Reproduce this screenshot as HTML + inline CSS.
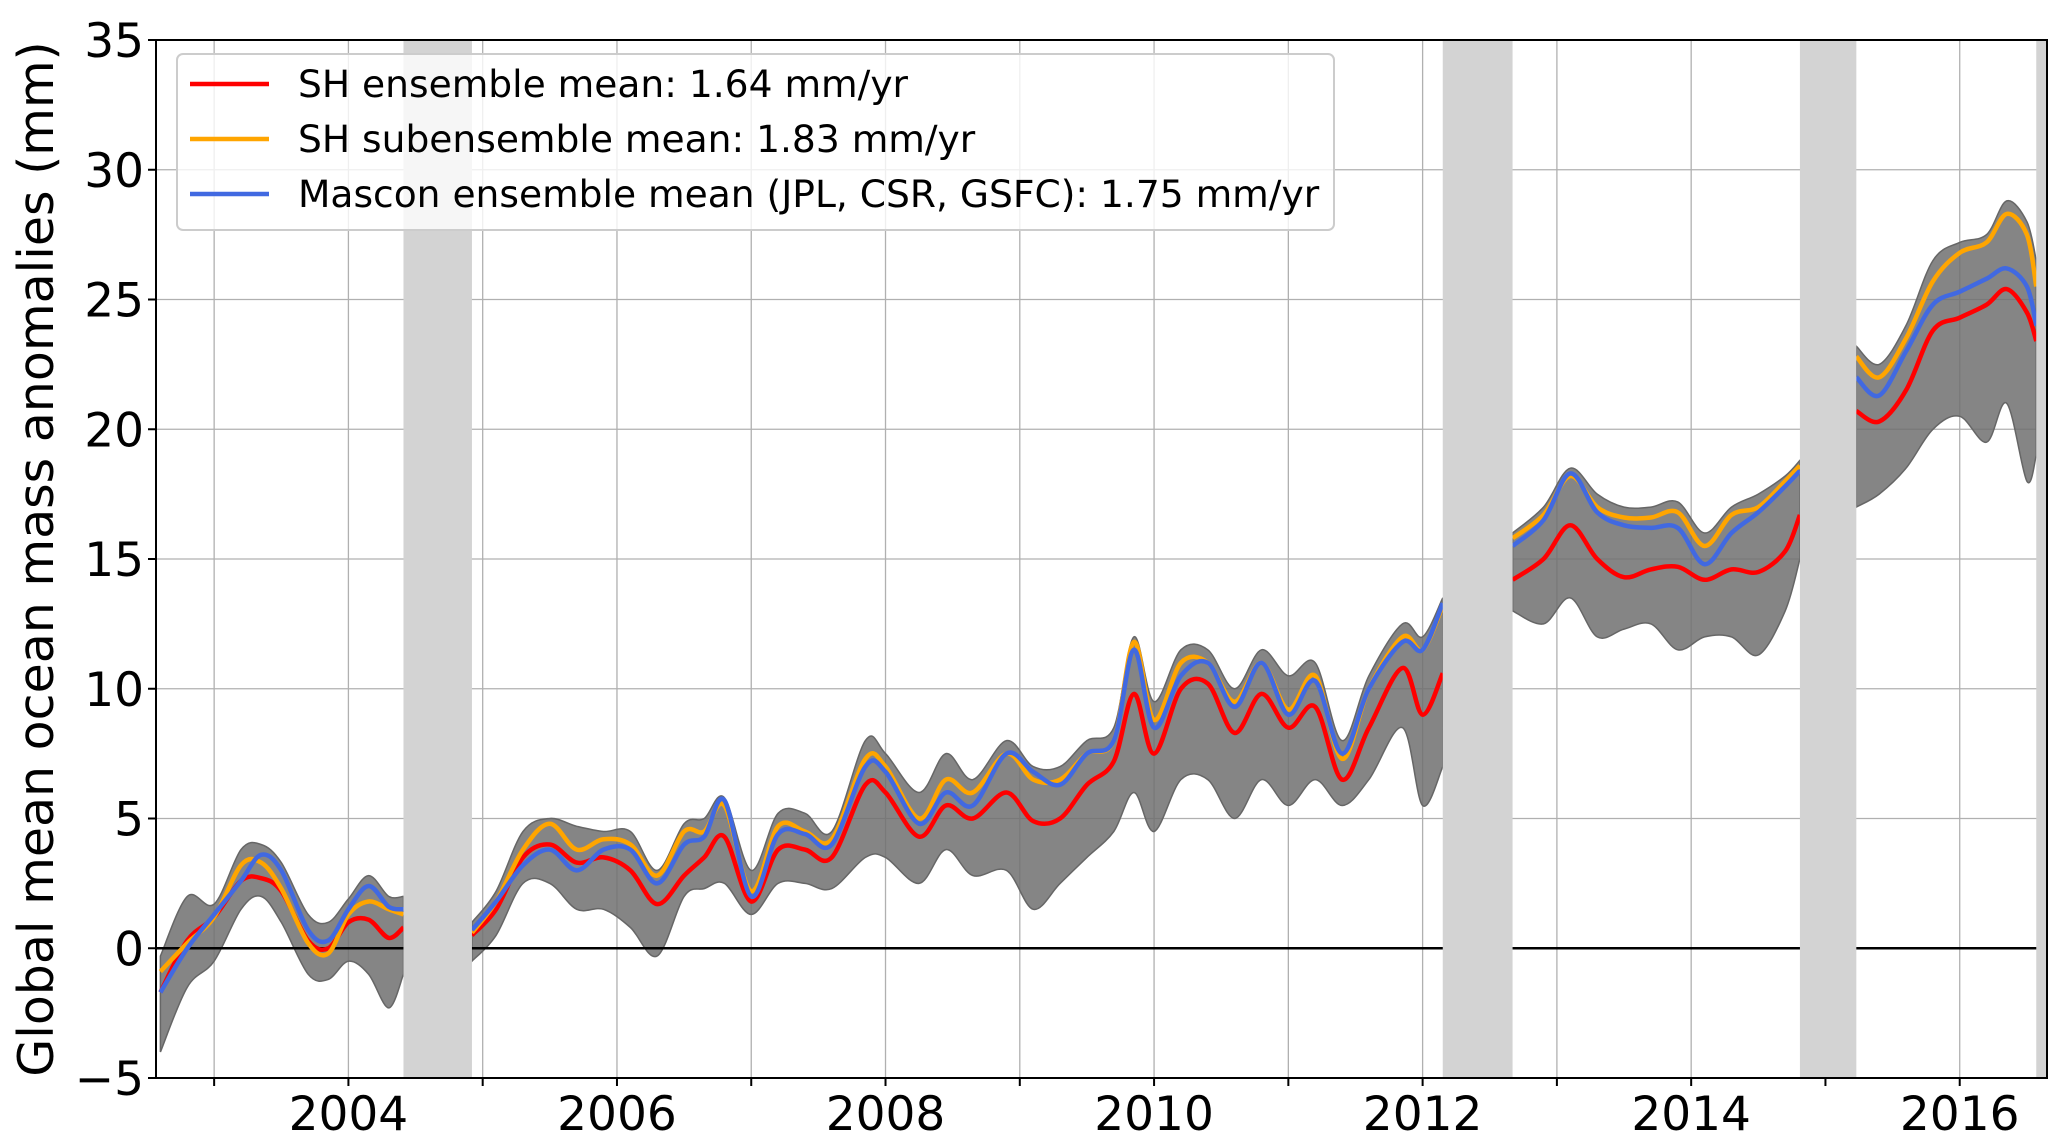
<!DOCTYPE html>
<html><head><meta charset="utf-8">
<style>
html,body{margin:0;padding:0;background:#fff;}
svg{display:block;font-family:"DejaVu Sans","Liberation Sans",sans-serif;}
</style></head>
<body>
<svg id="chart" width="2067" height="1148" viewBox="0 0 2067 1148" xmlns="http://www.w3.org/2000/svg">
<g id="grid"></g>
<g id="gaps"></g>
<g id="series"></g>
<g id="axes"></g>
<text x="0" y="0" transform="translate(53,559) rotate(-90)" text-anchor="middle" font-size="49">Global mean ocean mass anomalies (mm)</text>
<g>
  <rect x="177" y="54" width="1157" height="176" rx="6" fill="#fff" fill-opacity="0.8" stroke="#ccc" stroke-width="2"/>
  <line x1="190" y1="84" x2="269" y2="84" stroke="#ff0000" stroke-width="4.5"/>
  <text x="298" y="97" font-size="37.6">SH ensemble mean: 1.64 mm/yr</text>
  <line x1="190" y1="139" x2="269" y2="139" stroke="#ffa500" stroke-width="4.5"/>
  <text x="298" y="152" font-size="37.6">SH subensemble mean: 1.83 mm/yr</text>
  <line x1="190" y1="194" x2="269" y2="194" stroke="#4169e1" stroke-width="4.5"/>
  <text x="298" y="207" font-size="37.6">Mascon ensemble mean (JPL, CSR, GSFC): 1.75 mm/yr</text>
</g>
</svg>
<script>
const years=[2002.6,2002.8,2003.0,2003.2,2003.35,2003.5,2003.7,2003.85,2004.0,2004.15,2004.3,2004.41,null,
2004.92,2005.1,2005.3,2005.5,2005.7,2005.9,2006.1,2006.3,2006.5,2006.65,2006.8,2007.0,2007.2,2007.4,2007.6,2007.85,2008.0,2008.25,2008.45,2008.65,2008.9,2009.1,2009.3,2009.5,2009.7,2009.85,2010.0,2010.2,2010.4,2010.6,2010.8,2011.0,2011.2,2011.4,2011.6,2011.85,2012.0,2012.15,null,
2012.67,2012.9,2013.1,2013.3,2013.5,2013.7,2013.9,2014.1,2014.3,2014.5,2014.7,2014.81,null,
2015.23,2015.4,2015.6,2015.8,2016.0,2016.2,2016.35,2016.5,2016.57];
const shMean=[-1.7,0.3,1.2,2.6,2.7,2.2,0.3,0.0,1.0,1.1,0.4,0.8,null,
0.5,1.5,3.5,4.0,3.3,3.5,3.0,1.7,2.8,3.5,4.3,1.8,3.8,3.8,3.5,6.3,6.0,4.3,5.5,5.0,6.0,4.9,5.0,6.3,7.2,9.8,7.5,10.0,10.2,8.3,9.8,8.5,9.3,6.5,8.5,10.8,9.0,10.6,null,
14.2,15.0,16.3,15.0,14.3,14.6,14.7,14.2,14.6,14.5,15.3,16.7,null,
20.7,20.3,21.5,23.8,24.3,24.8,25.4,24.5,23.4];
const shSubMean=[-0.9,0.2,1.2,3.2,3.3,2.3,0.2,-0.2,1.3,1.8,1.5,1.3,null,
0.6,1.8,3.8,4.8,3.8,4.2,4.0,2.8,4.5,4.5,5.5,2.2,4.7,4.5,4.2,7.3,7.0,5.0,6.5,6.0,7.5,6.5,6.5,7.5,8.0,11.8,8.8,11.0,11.0,9.5,11.0,9.2,10.5,7.3,10.0,12.0,11.5,13.2,null,
15.8,16.7,18.2,17.0,16.6,16.6,16.8,15.5,16.7,17.0,18.0,18.6,null,
22.8,22.0,23.5,25.7,26.8,27.2,28.3,27.5,25.5];
const masconMean=[-1.7,0.0,1.3,2.6,3.6,3.0,0.7,0.3,1.5,2.4,1.6,1.5,null,
0.7,1.8,3.2,3.8,3.0,3.8,3.8,2.5,4.0,4.3,5.7,2.0,4.4,4.4,4.0,7.0,6.8,4.8,6.0,5.5,7.5,6.8,6.3,7.5,8.0,11.5,8.5,10.5,11.0,9.3,11.0,9.0,10.3,7.5,10.0,11.8,11.5,13.3,null,
15.5,16.5,18.3,16.8,16.3,16.2,16.2,14.8,16.0,16.8,17.8,18.4,null,
22.0,21.3,23.0,24.8,25.3,25.8,26.2,25.5,24.0];
const ensUpper=[-0.3,2.0,1.7,3.8,4.0,3.3,1.3,1.0,1.9,2.8,2.0,2.0,null,
1.0,2.2,4.5,5.0,4.7,4.5,4.5,3.0,4.8,5.0,5.8,3.0,5.2,5.2,4.5,8.0,7.5,6.0,7.5,6.5,8.0,7.0,7.0,8.0,8.5,12.0,9.5,11.5,11.5,10.0,11.5,10.5,11.0,8.0,10.5,12.5,12.0,13.5,null,
16.0,17.0,18.5,17.5,17.0,17.0,17.2,16.0,17.0,17.5,18.2,18.8,null,
23.2,22.5,24.0,26.5,27.2,27.5,28.8,28.0,26.5];
const ensLower=[-4.0,-1.5,-0.5,1.5,2.0,1.0,-1.0,-1.2,-0.5,-1.0,-2.3,-1.0,null,
-0.5,0.5,2.5,2.5,1.5,1.5,0.8,-0.3,2.0,2.3,2.5,1.3,2.5,2.5,2.3,3.5,3.5,2.5,3.8,2.8,3.0,1.5,2.5,3.5,4.5,6.0,4.5,6.5,6.5,5.0,6.5,5.5,6.5,5.5,6.5,8.5,5.5,7.0,null,
13.0,12.5,13.5,12.0,12.3,12.5,11.5,12.0,12.0,11.3,13.0,15.0,null,
17.0,17.5,18.5,20.0,20.5,19.5,21.0,18.0,19.0];
const gapStarts=[2004.41,2012.15,2014.81,2016.57];
const gapEnds=[2004.92,2012.67,2015.23,2016.65];
const yTicks=[-5,0,5,10,15,20,25,30,35];
const xTickYears=[2004,2006,2008,2010,2012,2014,2016];
const xGridYears=[2003,2004,2005,2006,2007,2008,2009,2010,2011,2012,2013,2014,2015,2016];

const X0=156,X1=2047,Y0=40,Y1=1078,XMIN=2002.567,XMAX=2016.65,YMIN=-5,YMAX=35;
const sx=v=>X0+(v-XMIN)/(XMAX-XMIN)*(X1-X0);
const sy=v=>Y1-(v-YMIN)/(YMAX-YMIN)*(Y1-Y0);
const NS='http://www.w3.org/2000/svg';
function mk(tag,attrs,parent){const e=document.createElementNS(NS,tag);for(const k in attrs)e.setAttribute(k,attrs[k]);parent.appendChild(e);return e;}
const grid=document.getElementById('grid'),gaps=document.getElementById('gaps'),series=document.getElementById('series'),axes=document.getElementById('axes');

xGridYears.forEach(y=>{const l=mk('line',{x1:sx(y),x2:sx(y),y1:Y0,y2:Y1,stroke:'#b0b0b0','stroke-width':1.3},grid);

});
yTicks.forEach(v=>{const l=mk('line',{x1:X0,x2:X1,y1:sy(v),y2:sy(v),stroke:'#b0b0b0','stroke-width':1.3},grid);

});

function segments(vals){const segs=[];let cur=[];years.forEach((t,i)=>{if(t===null||vals[i]===null){if(cur.length)segs.push(cur);cur=[];}else cur.push([sx(t),sy(vals[i])]);});if(cur.length)segs.push(cur);return segs;}
function smooth(p){let d='M'+p[0][0].toFixed(1)+','+p[0][1].toFixed(1);for(let i=0;i<p.length-1;i++){const a=p[Math.max(i-1,0)],b=p[i],c=p[i+1],e=p[Math.min(i+2,p.length-1)];const c1=[b[0]+(c[0]-a[0])/6,b[1]+(c[1]-a[1])/6],c2=[c[0]-(e[0]-b[0])/6,c[1]-(e[1]-b[1])/6];d+='C'+c1[0].toFixed(1)+','+c1[1].toFixed(1)+' '+c2[0].toFixed(1)+','+c2[1].toFixed(1)+' '+c[0].toFixed(1)+','+c[1].toFixed(1);}return d;}

const up=segments(ensUpper),lo=segments(ensLower);
up.forEach((u,k)=>{const l=lo[k].slice().reverse();const d=smooth(u)+smooth(l).replace('M','L')+'Z';
const p=mk('path',{d:d,fill:'#707070','fill-opacity':0.85,stroke:'#666','stroke-width':1.5},series);

});

const z=mk('line',{x1:X0,x2:X1,y1:sy(0),y2:sy(0),stroke:'#000','stroke-width':2.5},series);



[[shMean,'#ff0000','sh-ensemble-mean-line'],[shSubMean,'#ffa500','sh-subensemble-mean-line'],[masconMean,'#4169e1','mascon-mean-line']].forEach(([vals,col,name])=>{
segments(vals).forEach(s=>{const p=mk('path',{d:smooth(s),fill:'none',stroke:col,'stroke-width':4.5,'stroke-linejoin':'round'},series);

});});

gapStarts.forEach((s,i)=>{const r=mk('rect',{x:sx(s),y:Y0,width:sx(gapEnds[i])-sx(s),height:Y1-Y0,fill:'#d3d3d3'},gaps);

});
series.parentNode.insertBefore(gaps,series.nextSibling);

const frame=mk('rect',{x:X0,y:Y0,width:X1-X0,height:Y1-Y0,fill:'none',stroke:'#000','stroke-width':2},axes);


yTicks.forEach(v=>{const t=mk('line',{x1:X0-8,x2:X0,y1:sy(v),y2:sy(v),stroke:'#000','stroke-width':2},axes);


const tx=mk('text',{x:X0-12,y:sy(v)+17,'text-anchor':'end','font-size':47},axes);
tx.textContent=v<0?'\u2212'+Math.abs(v):String(v);

});
xGridYears.forEach(y=>{const t=mk('line',{x1:sx(y),x2:sx(y),y1:Y1,y2:Y1+8,stroke:'#000','stroke-width':2},axes);

});
xTickYears.forEach(y=>{const tx=mk('text',{x:sx(y),y:Y1+52,'text-anchor':'middle','font-size':47},axes);
tx.textContent=String(y);

});
</script>
</body></html>
